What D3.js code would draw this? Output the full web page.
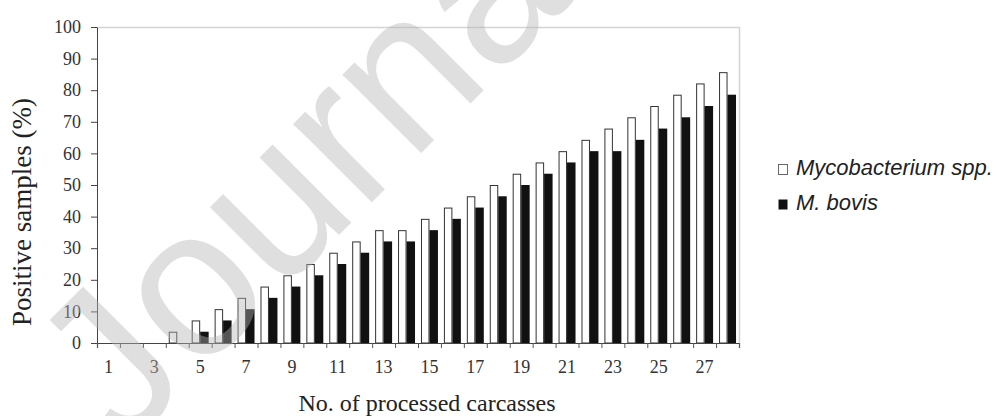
<!DOCTYPE html>
<html>
<head>
<meta charset="utf-8">
<script src="https://cdn.jsdelivr.net/npm/d3@7"></script>
<style>
    body { margin: 0; background: #fff; }
    svg { display: block; }
</style>
</head>
<body>
<div id="chart"></div>
<script>
    // carcass number 1..28
    const carcasses = d3.range(1, 29);
    // cumulative % positive samples
    const mycobacterium = [0, 0, 0, 3.57, 7.14, 10.71, 14.29, 17.86, 21.43, 25, 28.57, 32.14, 35.71, 35.71,
        39.29, 42.86, 46.43, 50, 53.57, 57.14, 60.71, 64.29, 67.86, 71.43, 75, 78.57, 82.14, 85.71];
    const mBovis = [0, 0, 0, 0, 3.57, 7.14, 10.71, 14.29, 17.86, 21.43, 25, 28.57, 32.14, 32.14,
        35.71, 39.29, 42.86, 46.43, 50, 53.57, 57.14, 60.71, 60.71, 64.29, 67.86, 71.43, 75, 78.57];
    const seriesNames = ["Mycobacterium spp.", "M. bovis"];
    const yTicks = d3.range(0, 101, 10);
    const xTickLabels = carcasses.filter(d => d % 2 === 1);

    const width = 997, height = 416;
    const plotLeft = 97, plotRight = 739, plotTop = 27, plotBottom = 343;
    const SERIF = "'Liberation Serif', 'Times New Roman', serif";
    const SANS = "'Liberation Sans', Arial, sans-serif";

    var data = carcasses.map((c, i) => ({ c: c, values: [mycobacterium[i], mBovis[i]] }));

    var svg = d3.select("#chart").append("svg")
        .attr("width", width)
        .attr("height", height);

    var x = d3.scaleBand()
        .domain(carcasses)
        .range([plotLeft, plotRight])
        .paddingInner(0.26)
        .paddingOuter(0.13);

    var x1 = d3.scaleBand()
        .domain([0, 1])
        .range([0, x.bandwidth()]);

    var xEdges = d3.scaleLinear()
        .domain([0, carcasses.length])
        .range([plotLeft, plotRight]);

    var y = d3.scaleLinear()
        .domain([0, 100])
        .range([plotBottom, plotTop]);

    // light frame top / right
    svg.append("path")
        .attr("d", `M${plotLeft},${plotTop + 0.5}H${plotRight + 0.5}V${plotBottom}`)
        .attr("fill", "none")
        .attr("stroke", "#d4d4d4")
        .attr("stroke-width", 1.5);

    // y axis
    var yAxis = svg.append("g")
        .attr("transform", `translate(${plotLeft},0)`)
        .call(d3.axisLeft(y).tickValues(yTicks).tickSize(6).tickSizeOuter(0));
    yAxis.select(".domain").attr("stroke", "#444");
    yAxis.selectAll(".tick line").attr("stroke", "#444");
    yAxis.selectAll(".tick text")
        .attr("x", -16)
        .attr("font-family", SERIF)
        .attr("font-size", 18)
        .attr("fill", "#333");

    // bars
    var groups = svg.append("g")
        .selectAll("g")
        .data(data)
        .enter().append("g")
        .attr("transform", d => `translate(${x(d.c)},0)`);

    groups.selectAll("rect")
        .data(d => d.values.map((v, k) => ({ k: k, v: v })).filter(d => d.v > 0))
        .enter().append("rect")
        .attr("x", d => x1(d.k) + (d.k === 0 ? 0.5 : 0))
        .attr("y", d => y(d.v) + (d.k === 0 ? 0.5 : 0))
        .attr("width", d => x1.bandwidth() - (d.k === 0 ? 1 : 0))
        .attr("height", d => plotBottom - y(d.v) - (d.k === 0 ? 0.5 : 0))
        .attr("fill", d => d.k === 0 ? "#fff" : "#111")
        .attr("stroke", d => d.k === 0 ? "#333" : "none")
        .attr("stroke-width", 1);

    // x axis: ticks between categories, labels on odd ones
    var xTickAxis = svg.append("g")
        .attr("transform", `translate(0,${plotBottom})`)
        .call(d3.axisBottom(xEdges).tickValues(d3.range(0, carcasses.length + 1)).tickSize(5).tickFormat(""));
    xTickAxis.select(".domain").attr("stroke", "#444").attr("stroke-width", 1.2);
    xTickAxis.selectAll(".tick line").attr("stroke", "#555");

    var xLabelAxis = svg.append("g")
        .attr("transform", `translate(0,${plotBottom})`)
        .call(d3.axisBottom(x).tickValues(xTickLabels).tickSize(0).tickPadding(17));
    xLabelAxis.select(".domain").remove();
    xLabelAxis.selectAll(".tick text")
        .attr("font-family", SERIF)
        .attr("font-size", 18)
        .attr("fill", "#333");

    // axis titles
    svg.append("text")
        .attr("x", 427)
        .attr("y", 411)
        .attr("text-anchor", "middle")
        .attr("font-family", SERIF)
        .attr("font-size", 24)
        .attr("fill", "#222")
        .text("No. of processed carcasses");

    svg.append("text")
        .attr("transform", "translate(31,212) rotate(-90)")
        .attr("text-anchor", "middle")
        .attr("font-family", SERIF)
        .attr("font-size", 27)
        .attr("fill", "#222")
        .text("Positive samples (%)");

    // legend
    var legend = svg.append("g")
        .selectAll("g")
        .data(seriesNames)
        .enter().append("g")
        .attr("transform", (d, i) => `translate(778,${164 + i * 35})`);

    legend.append("rect")
        .attr("x", 0.5)
        .attr("y", 0.5)
        .attr("width", 9)
        .attr("height", 10)
        .attr("fill", (d, i) => i === 0 ? "#fff" : "#111")
        .attr("stroke", (d, i) => i === 0 ? "#666" : "none");

    legend.append("text")
        .attr("x", 18)
        .attr("y", 11)
        .attr("font-family", SANS)
        .attr("font-style", "italic")
        .attr("font-size", 22)
        .attr("fill", "#222")
        .text(d => d);

    // watermark on top
    svg.append("text")
        .attr("transform", "translate(122,452) rotate(-45)")
        .attr("font-family", SANS)
        .attr("font-size", 210)
        .attr("fill", "#b4b4b4")
        .attr("opacity", 0.42)
        .text("Journal");
</script>
</body>
</html>
